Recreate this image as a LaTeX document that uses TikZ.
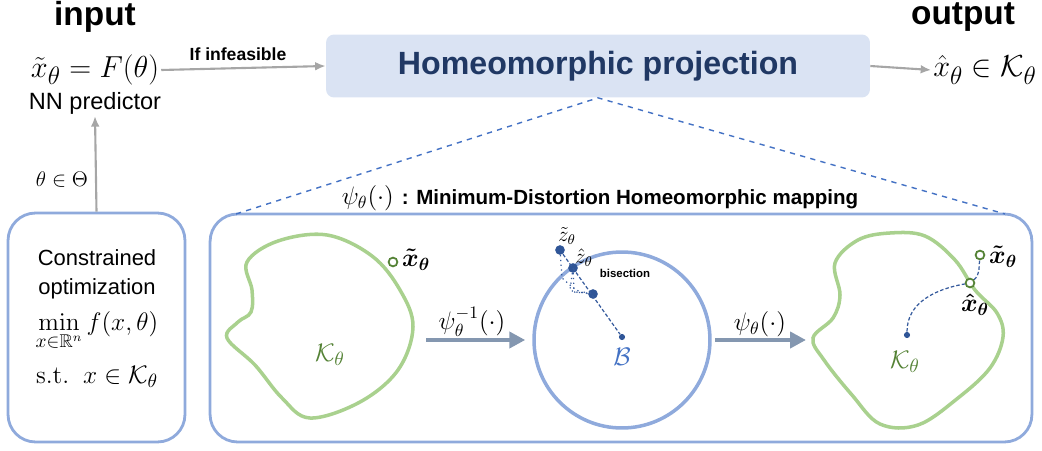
\documentclass[tikz,border=0pt]{standalone}
\usepackage[no-math]{fontspec}
\usepackage{amsmath, amssymb}
\usepackage{xcolor}
\usetikzlibrary{calc, positioning, arrows.meta}
\newfontfamily\hsans{Liberation Sans}
\definecolor{frame}{HTML}{8FAADC}
\definecolor{blob}{HTML}{A9D18E}
\definecolor{leaf}{HTML}{548235}
\definecolor{navy}{HTML}{203864}
\definecolor{pale}{HTML}{DAE3F3}
\definecolor{steel}{HTML}{8497B0}
\definecolor{pin}{HTML}{2F5597}
\definecolor{ash}{HTML}{A6A6A6}
\definecolor{sky}{HTML}{4472C4}

\begin{document}
\begin{tikzpicture}[x=0.02cm, y=-0.02cm,
    every node/.style={text=black, inner sep=1pt},
    head/.style={font=\hsans\bfseries\fontsize{19}{22}\selectfont},
    big/.style={font=\fontsize{19}{22}\selectfont},
    mid/.style={font=\fontsize{14}{16}\selectfont},
    plain/.style={font=\hsans\fontsize{12.5}{15}\selectfont},
    box/.style={draw=frame, line width=1.6pt, rounded corners=0.55cm},
    feed/.style={ash, line width=1.2pt, -{Latex[length=6pt, width=5pt]}},
    maparrow/.style={steel, line width=2.5pt, -{Triangle[length=9pt, width=9pt]}},
    region/.style={blob, line width=2pt},
    spot/.style={circle, fill=pin, minimum size=5.5pt, inner sep=0pt},
    dot/.style={circle, fill=pin, minimum size=3.5pt, inner sep=0pt},
    ring/.style={circle, draw=leaf, line width=1pt, fill=white, minimum size=5pt, inner sep=0pt},
    guide/.style={draw=sky!80!black, line width=0.7pt}
  ]
    \useasboundingbox (0,0) rectangle (1042,450);

    % Top row
    \node[head] (inlbl) at (95,17) {input};
    \node[head] (outlbl) at (963,17) {output};
    \node[big] (pred) at (95,70) {$\tilde{x}_\theta = F(\theta)$};
    \node[plain, font=\hsans\fontsize{13.4}{16}\selectfont] (nn) at (95,103) {NN predictor};
    \node[fill=pale, rounded corners=0.16cm, minimum width=10.88cm, minimum height=1.26cm,
          text=navy, font=\hsans\bfseries\fontsize{18.3}{22}\selectfont] (proj) at (598,66) {Homeomorphic projection};
    \node[big] (out) at (985,70) {$\hat{x}_\theta \in \mathcal{K}_\theta$};
    \node[font=\hsans\bfseries\fontsize{10}{12}\selectfont] (infs) at (238,54) {If infeasible};

    \draw[feed] (pred.east) -- (proj.west);
    \draw[feed] (proj.east) -- (out.west);

    % Constrained optimization
    \node[box, minimum width=3.54cm, minimum height=4.58cm] (opt) at (96.5,327.5) {};
    \node[plain] (con1) at (97,258) {Constrained};
    \node[plain] (con2) at (97,289) {optimization};
    \node[font=\fontsize{15}{18}\selectfont] (goal) at (97,331) {$\displaystyle\min_{x\in\mathbb{R}^n} f(x,\theta)$};
    \node[font=\fontsize{15}{18}\selectfont] (subj) at (97,377) {$\mathrm{s.t.}\;\; x \in \mathcal{K}_\theta$};
    \node[font=\fontsize{13}{16}\selectfont] (param) at (62,180) {$\theta\in\Theta$};
    \draw[feed] (opt.north) -- (nn.south);

    % Mapping panel
    \node[box, minimum width=16.44cm, minimum height=4.56cm] (map) at (621,328) {};
    \node (ttl) at (600,198) {\fontsize{14}{16}\selectfont$\psi_\theta(\cdot)$ \hsans\bfseries\fontsize{11.7}{14}\selectfont: Minimum-Distortion Homeomorphic mapping};
    \coordinate (mapl) at (236,214);
    \coordinate (mapr) at (1005,214);
    \draw[sky, dashed, line width=0.8pt] (mapl) -- (proj.south) -- (mapr);

    % Left region
    \draw[region] plot[smooth cycle, tension=0.6] coordinates {(247,262) (278,241) (327,235) (372,256) (400,290) (413,327) (398,370) (360,402) (310,418) (282,398) (255,365) (227,338) (238,322) (251,312) (252,290)};
    \node[mid, text=leaf, font=\fontsize{15}{18}\selectfont] (kl) at (330,355) {$\mathcal{K}_\theta$};
    \node[ring] (xl) at (393,262) {};
    \node[mid, anchor=west] (xll) at (400,260) {$\boldsymbol{\tilde{x}_\theta}$};

    % Ball
    \node[circle, draw=frame, line width=2pt, minimum size=3.52cm] (ball) at (622,340) {};
    \node[dot] (bc) at (622,337) {};
    \node[mid, text=sky, font=\fontsize{15}{18}\selectfont] (bl) at (622,357) {$\mathcal{B}$};
    \node[spot] (zt) at (560,250) {};
    \node[spot] (zh) at (573,268) {};
    \node[spot] (zm) at (593,294) {};
    \node[font=\fontsize{12}{14}\selectfont] (ztl) at (567,236) {$\tilde{z}_\theta$};
    \node[font=\fontsize{12}{14}\selectfont] (zhl) at (584,258) {$\hat{z}_\theta$};
    \node[font=\hsans\bfseries\fontsize{6.5}{8}\selectfont] (bis) at (625,273) {bisection};
    \draw[guide, dashed, dash pattern=on 2pt off 1.2pt] (zt) -- (bc);
    \draw[guide, dotted] (zt) -- ++(2,28) to[out=-40, in=175] (zm);
    \draw[guide, dotted] (zh) -- ++(-3,22) to[out=-30, in=170] (zm);
    \draw[guide, dotted] (zh) -- ++(1,24) to[out=-15, in=165] (zm);

    % Right region
    \draw[region] plot[smooth cycle, tension=0.6] coordinates {(835,263) (858,240) (890,233) (925,236) (955,260) (975,290) (997,313) (1003,337) (990,368) (958,398) (918,425) (880,424) (852,395) (824,360) (813,338) (833,318) (840,295)};
    \node[mid, text=leaf, font=\fontsize{15}{18}\selectfont] (kr) at (905,362) {$\mathcal{K}_\theta$};
    \node[dot] (rc) at (907,335) {};
    \node[ring] (xh) at (970,283) {};
    \node[ring] (xt) at (980,255) {};
    \node[mid, anchor=west] (xtl) at (987,257) {$\boldsymbol{\tilde{x}_\theta}$};
    \node[mid] (xhl) at (975,305) {$\boldsymbol{\hat{x}_\theta}$};
    \draw[guide, dashed, dash pattern=on 2pt off 1.2pt] (rc) to[out=90, in=190] (xh) to[out=40, in=-95] (xt);

    % Mapping arrows
    \coordinate (a1) at (426,340);
    \coordinate (a2) at (715,340);
    \draw[maparrow] (a1) -- ([xshift=-0.14cm]ball.west);
    \draw[maparrow] (a2) -- (806,340);
    \node[mid] (inv) at (472,322) {$\psi_\theta^{-1}(\cdot)$};
    \node[mid] (fwd) at (760,324) {$\psi_\theta(\cdot)$};
\end{tikzpicture}
\end{document}
